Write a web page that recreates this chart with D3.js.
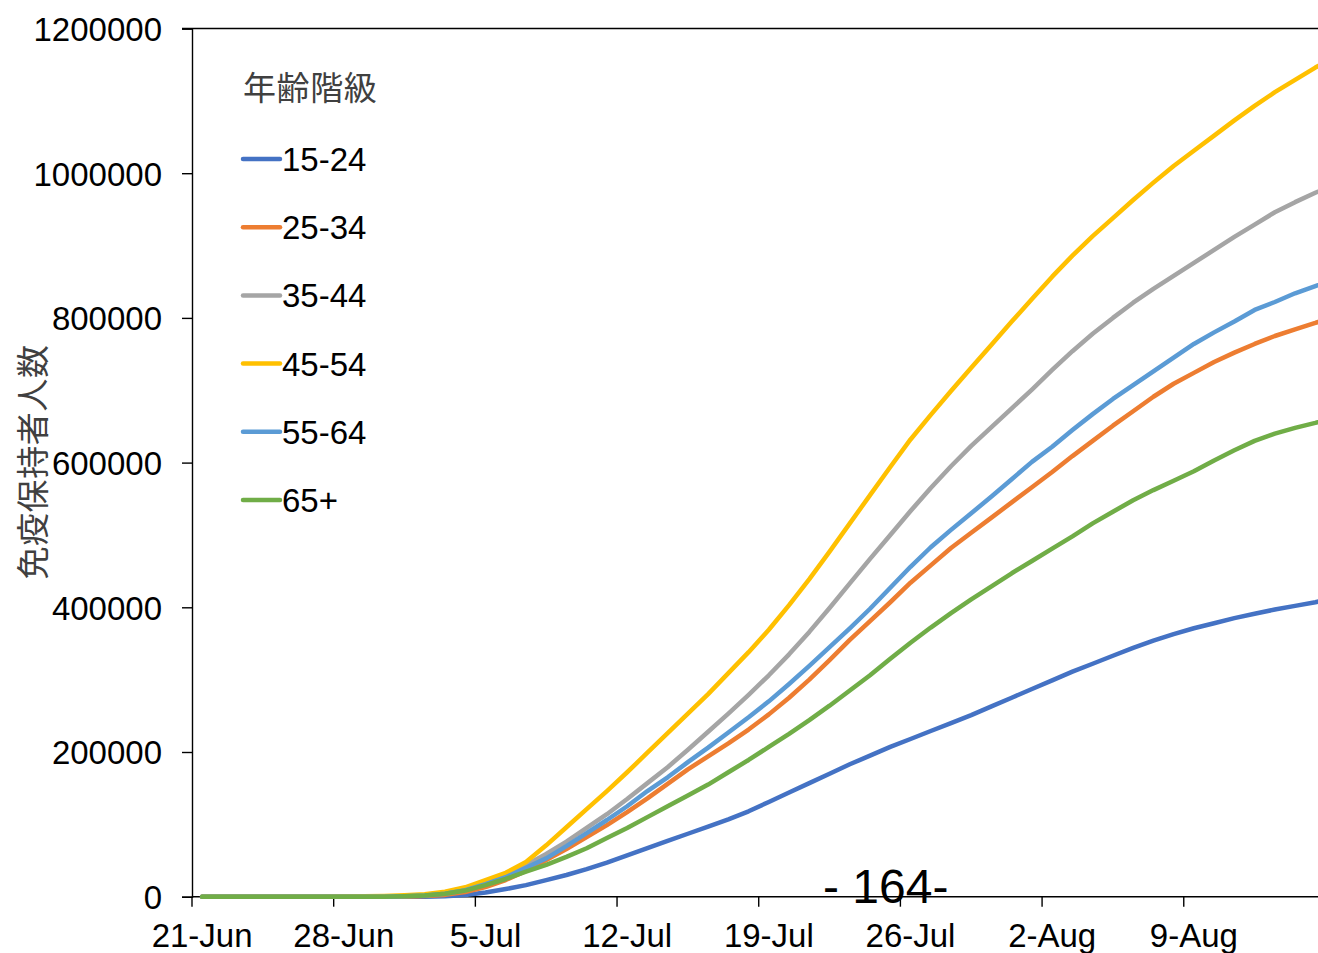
<!DOCTYPE html>
<html><head><meta charset="utf-8">
<script src="https://cdn.jsdelivr.net/npm/d3@7"></script>
<style>
html,body{margin:0;padding:0;background:#fff;overflow:hidden;}
svg{display:block;}
</style></head>
<body>
<svg id="chart" width="1318" height="953"></svg>
<script>
// ---- data ----
const startDate = "2021-06-21";
const dayCount = 57;
const seriesNames = ["15-24", "25-34", "35-44", "45-54", "55-64", "65+"];
const seriesColors = ["#4472C4", "#ED7D31", "#A5A5A5", "#FFC000", "#5B9BD5", "#70AD47"];
const yTickValues = [0, 200000, 400000, 600000, 800000, 1000000, 1200000];
const legendTitle = "年齢階級";
const yAxisTitle = "免疫保持者人数";
const pageNumber = "- 164-";

const age15_24 = [0,0,0,0,0,0,0,0,0,0,0,0,700,2500,5800,10600,16000,23000,30000,38000,47000,57000,67000,77000,87000,97000,107000,118000,131000,144000,157000,170000,183000,195000,207000,218000,229000,240000,251000,263000,275000,287000,299000,311000,322000,333000,344000,354000,363000,371000,378000,385000,391000,397000,402000,407000,413000];
const age25_34 = [0,0,0,0,0,0,0,0,0,0,0,1000,2500,6500,13400,23000,35500,50700,66000,82500,99000,117000,136000,156000,176000,194000,212000,231000,252000,275000,300000,327000,355000,381000,407000,434000,458000,482000,503000,524000,545000,566000,587000,609000,630000,651000,671000,691000,709000,724000,739000,752000,764000,775000,784000,793000,803000];
const age35_44 = [0,0,0,0,0,0,0,0,0,500,1000,2500,5000,10000,19000,30000,44000,59000,76000,95000,114000,135000,157000,179000,203000,228000,253000,279000,306000,335000,366000,399000,433000,467000,500000,533000,565000,595000,623000,649000,675000,701000,728000,754000,778000,800000,821000,840000,858000,876000,894000,912000,929000,946000,960000,973000,985000];
const age45_54 = [0,0,0,0,0,0,0,200,500,1000,2000,3500,7000,13000,23000,33000,48000,71000,96000,121000,146000,172000,199000,226000,253000,280000,309000,338000,369000,403000,439000,477000,516000,555000,594000,632000,666000,699000,731000,763000,795000,826000,857000,886000,913000,938000,963000,987000,1010000,1031000,1052000,1073000,1093000,1112000,1129000,1146000,1161000];
const age55_64 = [0,0,0,0,0,0,0,0,0,0,500,1500,4000,9000,17500,27000,40000,53000,70000,88000,106000,125000,146000,165000,186000,206000,227000,248000,270000,294000,319000,345000,371000,398000,427000,456000,483000,507000,530000,553000,577000,601000,622000,645000,667000,688000,707000,726000,745000,764000,780000,795000,811000,822000,834000,844000,854000];
const age65plus = [0,0,0,0,0,0,0,0,0,0,500,1500,4000,8500,16000,24500,34500,44000,55000,67000,81000,95000,110000,125000,140000,155000,172000,189000,207000,225000,244000,264000,285000,306000,329000,351000,372000,392000,411000,429000,447000,464000,481000,498000,516000,532000,548000,562000,575000,588000,603000,617000,630000,640000,648000,655000,663000];

const seriesValues = [age15_24, age25_34, age35_44, age45_54, age55_64, age65plus];

// ---- layout ----
const plotLeft = 192, plotTop = 28.5, plotBottom = 896.7, dayWidth = 20.24;
const svg = d3.select("#chart");
const parse = d3.timeParse("%Y-%m-%d");
const dates = d3.timeDay.range(parse(startDate), d3.timeDay.offset(parse(startDate), dayCount));
const fmt = d3.timeFormat("%-d-%b");

const x = d3.scaleBand().domain(dates.map(d => +d)).range([plotLeft, plotLeft + dayCount * dayWidth]).paddingInner(0).paddingOuter(0);
const y = d3.scaleLinear().domain([0, 1200000]).range([plotBottom, plotTop]);
const bw = x.bandwidth();

const fontLatin = "'Liberation Sans', Arial, sans-serif";
const fontCJK = "'Noto Sans CJK JP', 'Noto Sans CJK SC', sans-serif";

// top border line at max value
svg.append("line")
  .attr("x1", plotLeft - 10).attr("x2", plotLeft + dayCount * dayWidth)
  .attr("y1", y(1200000)).attr("y2", y(1200000))
  .attr("stroke", "#000").attr("stroke-width", 1.4);

// y axis
const yAxis = d3.axisLeft(y).tickValues(yTickValues).tickSize(10).tickPadding(20).tickFormat(d3.format("d"));
const gy = svg.append("g").attr("transform", `translate(${plotLeft},0)`).call(yAxis);
gy.select(".domain").attr("stroke", "#000").attr("stroke-width", 1.4);
gy.selectAll(".tick line").attr("stroke", "#000").attr("stroke-width", 1.4);
gy.selectAll(".tick text").attr("font-family", fontLatin).attr("font-size", 33).attr("fill", "#000").attr("dy", "0.36em");

// x axis line
svg.append("line")
  .attr("x1", plotLeft).attr("x2", plotLeft + dayCount * dayWidth)
  .attr("y1", y(0)).attr("y2", y(0))
  .attr("stroke", "#000").attr("stroke-width", 1.4);

// weekly ticks at category boundaries, labels only for complete weeks
const weekly = dates.filter((d, i) => i % 7 === 0);
const labeled = dates.filter((d, i) => i % 7 === 0 && i + 7 <= dayCount);
svg.append("g").selectAll("line").data(weekly).join("line")
  .attr("x1", d => x(+d)).attr("x2", d => x(+d))
  .attr("y1", y(0)).attr("y2", y(0) + 10)
  .attr("stroke", "#000").attr("stroke-width", 1.4);
svg.append("g").selectAll("text").data(labeled).join("text")
  .attr("x", d => x(+d) + bw / 2).attr("y", 947)
  .attr("text-anchor", "middle")
  .attr("font-family", fontLatin).attr("font-size", 33).attr("fill", "#000")
  .text(d => fmt(d));

// lines
const line = d3.line().x((v, i) => x(+dates[i]) + bw / 2).y(v => y(v)).curve(d3.curveLinear);
svg.append("g").selectAll("path").data(seriesValues).join("path")
  .attr("d", d => line(d))
  .attr("fill", "none")
  .attr("stroke", (d, i) => seriesColors[i])
  .attr("stroke-width", 4.5)
  .attr("stroke-linejoin", "round")
  .attr("stroke-linecap", "round");

// y axis title
svg.append("text")
  .attr("transform", `translate(45,462) rotate(-90)`)
  .attr("text-anchor", "middle")
  .attr("font-family", fontCJK).attr("font-size", 33).attr("letter-spacing", 0.6).attr("fill", "#404040")
  .text(yAxisTitle);

// legend
const legend = svg.append("g");
legend.append("text")
  .attr("x", 243).attr("y", 100)
  .attr("font-family", fontCJK).attr("font-size", 33).attr("letter-spacing", 0.6).attr("fill", "#404040")
  .text(legendTitle);
const rows = legend.selectAll("g.row").data(seriesNames).join("g").attr("class", "row")
  .attr("transform", (d, i) => `translate(243,${159 + i * 68.2})`);
rows.append("line").attr("x1", 0).attr("x2", 37).attr("y1", 0).attr("y2", 0)
  .attr("stroke", (d, i) => seriesColors[i]).attr("stroke-width", 4.5).attr("stroke-linecap", "round");
rows.append("text").attr("x", 39).attr("y", 12)
  .attr("font-family", fontLatin).attr("font-size", 33).attr("fill", "#000")
  .text(d => d);

// page number
svg.append("text").attr("x", 823).attr("y", 903)
  .attr("font-family", fontLatin).attr("font-size", 48).attr("fill", "#000")
  .text(pageNumber);
</script>
</body></html>
